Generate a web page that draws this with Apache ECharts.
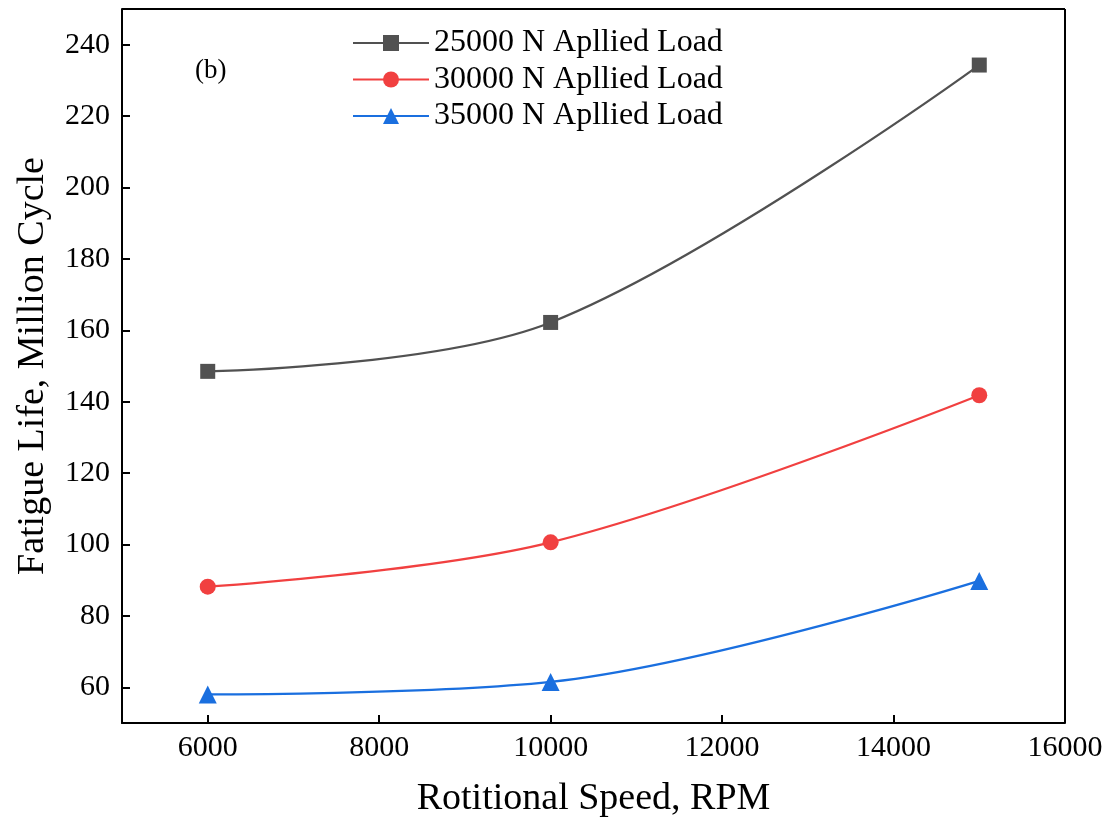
<!DOCTYPE html>
<html><head><meta charset="utf-8">
<script src="https://cdn.jsdelivr.net/npm/echarts@6/dist/echarts.min.js"></script>
<style>html,body{margin:0;padding:0;background:#fff}#c{width:1115px;height:820px}</style>
</head><body><div id="c"></div>
<script>
const speeds = [6000, 10000, 15000];
const load25000 = [148.5, 162.2, 234.3];
const load30000 = [88.2, 100.6, 141.8];
const load35000 = [58.0, 61.5, 89.8];
const seriesNames = ['25000 N Apllied Load', '30000 N Apllied Load', '35000 N Apllied Load'];
const xTicks = [6000, 8000, 10000, 12000, 14000, 16000];
const yTicks = [60, 80, 100, 120, 140, 160, 180, 200, 220, 240];

const font = 'Liberation Serif';
const chart = echarts.init(document.getElementById('c'));
function pts(v){ return speeds.map((s,i)=>[s, v[i]]); }
const colors = ['#515151', '#F14040', '#1A6FDF'];
const symbols = ['rect', 'circle', 'triangle'];
const sizes = [15, 16, 18];
const vals = [load25000, load30000, load35000];
chart.setOption({
  animation: false,
  grid: {left: 122, right: 50, top: 9, bottom: 97, containLabel: false, outerBoundsMode: 'none'},
  legend: {
    orient: 'vertical', left: 347, top: 22, itemWidth: 76, itemHeight: 20, itemGap: 4.5,
    textStyle: {fontFamily: font, fontSize: 32, lineHeight: 32, color: '#000'},
    data: seriesNames
  },
  graphic: [{type: 'text', left: 195, top: 57, style: {text: '(b)', font: '27px "Liberation Serif"', fill: '#000'}}],
  xAxis: {
    type: 'value', min: 5000, max: 16000,
    name: 'Rotitional Speed, RPM', nameLocation: 'middle', nameGap: 57,
    nameTextStyle: {fontFamily: font, fontSize: 38, color: '#000'},
    axisLine: {show: true, lineStyle: {color: '#000', width: 2}},
    axisTick: {show: true, inside: true, length: 8, customValues: xTicks, lineStyle: {color: '#000', width: 2}},
    axisLabel: {customValues: xTicks, formatter: v => String(v), fontFamily: font, fontSize: 30, color: '#000', margin: 10},
    splitLine: {show: false}
  },
  yAxis: {
    type: 'value', min: 50, max: 250,
    name: 'Fatigue Life, Million Cycle', nameLocation: 'middle', nameGap: 70,
    nameTextStyle: {fontFamily: font, fontSize: 38, color: '#000'},
    axisLine: {show: true, lineStyle: {color: '#000', width: 2}},
    axisTick: {show: true, inside: true, length: 8, customValues: yTicks, lineStyle: {color: '#000', width: 2}},
    axisLabel: {customValues: yTicks, formatter: v => String(v), fontFamily: font, fontSize: 30, color: '#000', margin: 12},
    splitLine: {show: false}
  },
  series: [0,1,2].map(i => ({
    type: 'line', name: seriesNames[i], data: pts(vals[i]), smooth: 0.35,
    symbol: symbols[i], symbolSize: sizes[i], showSymbol: true,
    itemStyle: {color: colors[i]}, lineStyle: {color: colors[i], width: 2.2}
  })).concat([{
    type: 'line', data: [], markLine: {silent: true, symbol: 'none', label: {show: false},
      lineStyle: {color: '#000', width: 2, type: 'solid'},
      data: [[{coord: [16000, 50]}, {coord: [16000, 250]}], [{coord: [5000, 250]}, {coord: [16000, 250]}]]}
  }])
});
</script></body></html>
